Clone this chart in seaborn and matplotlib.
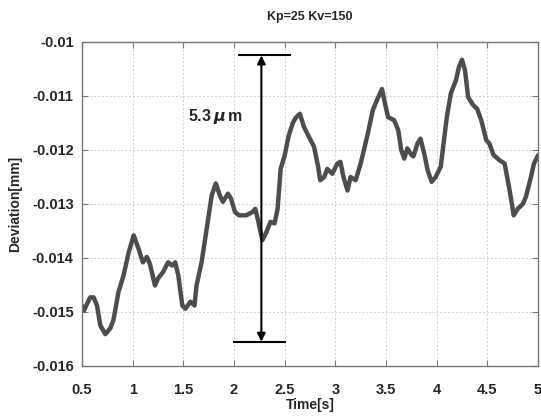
import matplotlib
matplotlib.use("Agg")
import matplotlib.pyplot as plt
import numpy as np
import pandas as pd
import seaborn as sns

# Measured deviation trace
time_s = [0.50, 0.52, 0.58, 0.615, 0.648, 0.681, 0.73, 0.78, 0.81, 0.86, 0.91, 0.96,
          1.01, 1.06, 1.10, 1.14, 1.17, 1.22, 1.25, 1.30, 1.35, 1.39, 1.42, 1.45,
          1.49, 1.52, 1.57, 1.61, 1.63, 1.68, 1.73, 1.78, 1.82, 1.86, 1.89, 1.94,
          1.97, 2.01, 2.05, 2.12, 2.18, 2.21, 2.24, 2.28, 2.32, 2.36, 2.40, 2.43,
          2.46, 2.50, 2.54, 2.58, 2.61, 2.65, 2.69, 2.74, 2.79, 2.83, 2.85, 2.89,
          2.92, 2.97, 3.02, 3.05, 3.08, 3.12, 3.15, 3.20, 3.25, 3.32, 3.37, 3.41,
          3.46, 3.49, 3.52, 3.58, 3.62, 3.65, 3.68, 3.71, 3.75, 3.77, 3.81, 3.84,
          3.88, 3.91, 3.95, 3.99, 4.04, 4.06, 4.10, 4.14, 4.19, 4.22, 4.25, 4.28,
          4.31, 4.36, 4.40, 4.44, 4.49, 4.52, 4.56, 4.62, 4.67, 4.72, 4.76, 4.80,
          4.85, 4.88, 4.93, 4.96, 5.00]
deviation_mm = [-0.01488, -0.01497, -0.01473, -0.01473, -0.01488, -0.01525, -0.01541,
                -0.01530, -0.01515, -0.01463, -0.01432, -0.01390, -0.01358, -0.01384,
                -0.01408, -0.01398, -0.01411, -0.01451, -0.01438, -0.01426, -0.01408,
                -0.01414, -0.01408, -0.01432, -0.01488, -0.01494, -0.01481, -0.01488,
                -0.01451, -0.01408, -0.01346, -0.01284, -0.01262, -0.01284, -0.01296,
                -0.01281, -0.01290, -0.01315, -0.01321, -0.01321, -0.01315, -0.01309,
                -0.01333, -0.01367, -0.01352, -0.01333, -0.01336, -0.01309, -0.01235,
                -0.01210, -0.01173, -0.01150, -0.01140, -0.01133, -0.01157, -0.01176,
                -0.01194, -0.01231, -0.01256, -0.01250, -0.01235, -0.01244, -0.01225,
                -0.01222, -0.01250, -0.01275, -0.01250, -0.01256, -0.01225, -0.01170,
                -0.01126, -0.01108, -0.01087, -0.01114, -0.01139, -0.01145, -0.01163,
                -0.01200, -0.01216, -0.01197, -0.01209, -0.01212, -0.01188, -0.01179,
                -0.01209, -0.01237, -0.01259, -0.01250, -0.01231, -0.01200, -0.01139,
                -0.01095, -0.01071, -0.01046, -0.01033, -0.01053, -0.01102, -0.01117,
                -0.01124, -0.01145, -0.01182, -0.01188, -0.01209, -0.01219, -0.01225,
                -0.01275, -0.01321, -0.01309, -0.01300, -0.01287, -0.01250, -0.01225,
                -0.01210]

x_ticks = [0.5, 1, 1.5, 2, 2.5, 3, 3.5, 4, 4.5, 5]
x_tick_labels = ["0.5", "1", "1.5", "2", "2.5", "3", "3.5", "4", "4.5", "5"]
y_ticks = [-0.016, -0.015, -0.014, -0.013, -0.012, -0.011, -0.01]
y_tick_labels = ["-0.016", "-0.015", "-0.014", "-0.013", "-0.012", "-0.011", "-0.01"]

# Peak-to-peak span marker (mm)
span_top = -0.01025
span_value = 0.0053
span_bottom = span_top - span_value
span_label = "5.3$\\,\\mu\\,$m"

sns.set_style("ticks")
plt.rcParams["font.family"] = ["Liberation Sans", "DejaVu Sans"]
plt.rcParams["font.weight"] = "bold"

df = pd.DataFrame({"Time": time_s, "Deviation": deviation_mm})

fig = plt.figure(figsize=(5.41, 4.19), dpi=100)
ax = fig.add_axes([0.1516, 0.1265, 0.8429, 0.7733])

sns.lineplot(data=df, x="Time", y="Deviation", ax=ax, color="#4d4d4d",
             linewidth=3.2, estimator=None, sort=False)

ax.set_xlim(0.5, 5)
ax.set_ylim(-0.016, -0.01)
ax.set_xticks(x_ticks)
ax.set_xticklabels(x_tick_labels)
ax.set_yticks(y_ticks)
ax.set_yticklabels(y_tick_labels)
ax.tick_params(direction="in", top=True, right=True, length=4, color="#777777",
               labelsize=10.5)
ax.tick_params(axis="x", pad=12)
ax.tick_params(axis="y", pad=6)
for lbl in ax.get_xticklabels() + ax.get_yticklabels():
    lbl.set_fontweight("bold")
ax.grid(True, color="#d0d0d0", linestyle=(0, (2, 2)), linewidth=0.7)
for sp in ax.spines.values():
    sp.set_color("#777777")
    sp.set_linewidth(1.0)

ax.set_xlabel("Time[s]", fontsize=10, fontweight="bold", labelpad=1)
ax.set_ylabel("Deviation[mm]", fontsize=10, fontweight="bold", labelpad=7)
ax.set_title("Kp=25 Kv=150", fontsize=9, fontweight="bold", pad=16)

# Span bracket with double arrow
ax.hlines(span_top, 2.04, 2.56, color="black", linewidth=1.5)
ax.hlines(span_bottom, 1.99, 2.51, color="black", linewidth=1.5)
ax.annotate("", xy=(2.27, span_top), xytext=(2.27, span_bottom),
            arrowprops=dict(arrowstyle="<|-|>", color="black", lw=1.5,
                            mutation_scale=12, shrinkA=0, shrinkB=0))
ax.text(1.82, -0.01138, span_label, fontsize=11.5, fontweight="bold",
        ha="center", va="center")

fig.savefig("out.png", dpi=100)
